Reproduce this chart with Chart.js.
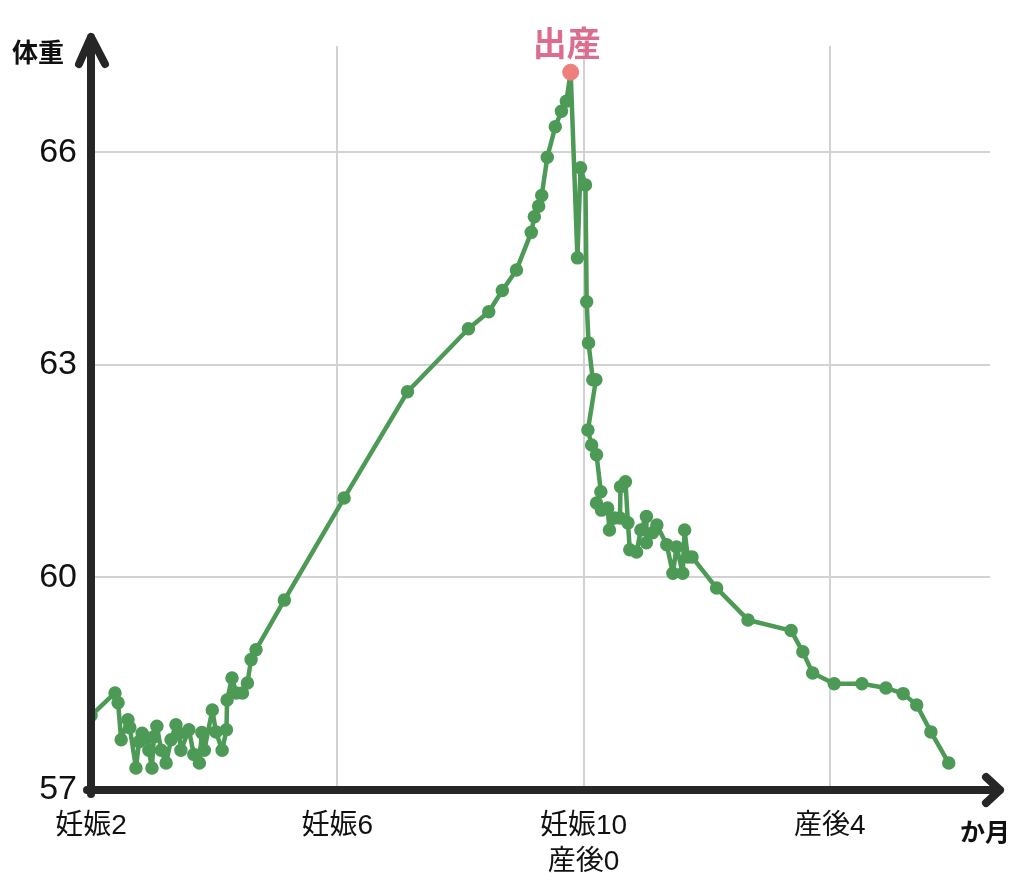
<!DOCTYPE html>
<html>
<head>
<meta charset="utf-8">
<script src="https://cdn.jsdelivr.net/npm/chart.js@4/dist/chart.umd.min.js"></script>
<style>
	body { margin: 0; background: #fff; }
	#wrapper-weight { width: 1024px; height: 893px; position: relative; }
</style>
</head>
<body>
<div id="wrapper-weight"><canvas id="lc-weight"></canvas></div>
<script>
// months: 2..10 = pregnancy month, 10.. = after birth (10 = 産後0)
const monthValues = [
	2.0, 2.39, 2.44, 2.49, 2.6, 2.63, 2.73, 2.78, 2.83, 2.91, 2.94, 2.99, 3.02, 3.07, 3.14,
	3.22, 3.3, 3.38, 3.43, 3.46, 3.59, 3.67, 3.76, 3.8, 3.84, 3.97, 4.03, 4.13, 4.2, 4.21,
	4.29, 4.36, 4.46, 4.54, 4.6, 4.68,
	5.14, 6.11, 7.14, 8.13, 8.46, 8.68, 8.91, 9.15, 9.2, 9.27, 9.32, 9.41, 9.54, 9.64, 9.72,
	9.79,
	9.9, 9.95, 10.03, 10.05, 10.08, 10.15, 10.2, 10.07, 10.13, 10.21, 10.28, 10.21, 10.29,
	10.39, 10.42, 10.5, 10.59, 10.6, 10.68, 10.72, 10.75, 10.86, 10.93, 11.02, 11.02, 11.12,
	11.19, 11.35, 11.45, 11.51, 11.61, 11.64, 11.69, 11.76,
	12.16, 12.67, 13.37, 13.56, 13.72, 14.07, 14.52, 14.91, 15.19, 15.41, 15.64, 15.93,
];
const weightValues = [
	58.05, 58.37, 58.23, 57.71, 57.99, 57.88, 57.31, 57.68, 57.8, 57.73, 57.56, 57.31, 57.75, 57.9, 57.56,
	57.38, 57.71, 57.92, 57.8, 57.56, 57.85, 57.5, 57.38, 57.81, 57.56, 58.13, 57.82, 57.56, 57.85, 58.27,
	58.58, 58.37, 58.37, 58.51, 58.84, 58.98,
	59.68, 61.12, 62.62, 63.51, 63.75, 64.05, 64.34, 64.87, 65.09, 65.24, 65.39, 65.93, 66.36, 66.58, 66.72,
	67.13,
	64.51, 65.78, 65.54, 63.89, 63.31, 62.79, 62.79, 62.08, 61.87, 61.73, 61.21, 61.05, 60.95,
	60.98, 60.67, 60.84, 60.84, 61.28, 61.35, 60.77, 60.39, 60.36, 60.67, 60.86, 60.49, 60.63,
	60.74, 60.46, 60.06, 60.43, 60.06, 60.67, 60.29, 60.29,
	59.85, 59.4, 59.25, 58.95, 58.65, 58.5, 58.5, 58.44, 58.36, 58.2, 57.82, 57.38,
];

const birthMonth = [9.79];
const birthWeight = [67.13];

const xTickValues = [2, 6, 10, 14];
const xTickLabels = ["妊娠2", "妊娠6", ["妊娠10", "産後0"], "産後4"];
const yTickValues = [57, 60, 63, 66];

const fontFamily = '"Liberation Sans", "Noto Sans CJK JP", sans-serif';
const cjkFont = '"Noto Sans CJK JP", "Liberation Sans", sans-serif';

// axes with arrow heads + free texts
const axisArrows = {
	id: "axisArrows",
	afterDatasetsDraw(chart) {
		const { ctx, chartArea } = chart;
		const left = chartArea.left, bottom = chartArea.bottom;
		ctx.save();
		ctx.strokeStyle = "#262626";
		ctx.lineWidth = 8;
		ctx.lineCap = "round";
		ctx.lineJoin = "round";

		ctx.beginPath();
		ctx.moveTo(left, bottom + 4);
		ctx.lineTo(left, 37);
		ctx.moveTo(left - 12, 64);
		ctx.lineTo(left, 37);
		ctx.lineTo(left + 14, 64);
		ctx.stroke();

		ctx.beginPath();
		ctx.moveTo(left - 4, bottom);
		ctx.lineTo(1000, bottom);
		ctx.moveTo(986, bottom - 13);
		ctx.lineTo(1000, bottom);
		ctx.lineTo(986, bottom + 13);
		ctx.stroke();

		ctx.fillStyle = "#111";
		ctx.textAlign = "center";
		ctx.textBaseline = "middle";
		ctx.font = "bold 26px " + cjkFont;
		ctx.fillText("体重", 38, 52);
		ctx.font = "bold 25px " + cjkFont;
		ctx.fillText("か月", 985, 831);

		const x = chart.scales.x.getPixelForValue(birthMonth[0]);
		const y = chart.scales.y.getPixelForValue(birthWeight[0]);
		ctx.fillStyle = "#dc6d8f";
		ctx.font = "bold 34px " + cjkFont;
		ctx.fillText("出産", x - 4, y - 29);
		ctx.restore();
	},
};

const data = {
	datasets: [
		{
			label: "出産",
			data: birthMonth.map((m, i) => ({ x: m, y: birthWeight[i] })),
			backgroundColor: "#ee7f7c",
			borderColor: "#ee7f7c",
			pointRadius: 8,
			showLine: false,
			order: 0,
		},
		{
			label: "体重",
			data: monthValues.map((m, i) => ({ x: m, y: weightValues[i] })),
			borderColor: "#4c9a56",
			backgroundColor: "#4c9a56",
			borderWidth: 4.5,
			pointRadius: 4.5,
			borderJoinStyle: "round",
			tension: 0,
			order: 1,
		},
	],
};

const options = {
	responsive: true,
	maintainAspectRatio: false,
	animation: false,
	layout: { padding: { top: 46, right: 34, left: 0, bottom: 0 } },
	plugins: {
		legend: { display: false },
		tooltip: { enabled: false },
	},
	scales: {
		x: {
			type: "linear",
			min: 2,
			max: 16.6,
			afterFit: (scale) => { scale.height = 103; },
			afterBuildTicks: (scale) => {
				scale.ticks = xTickValues.map((v) => ({ value: v }));
			},
			border: { display: false },
			grid: {
				drawTicks: false,
				lineWidth: 2,
				color: (ctx) => (ctx.tick && ctx.tick.value === 2 ? "rgba(0,0,0,0)" : "#d2d2d2"),
			},
			ticks: {
				padding: 18,
				maxRotation: 0,
				autoSkip: false,
				color: "#111",
				font: { family: fontFamily, size: 28, lineHeight: 1.3 },
				callback: (value) => xTickLabels[xTickValues.indexOf(value)],
			},
		},
		y: {
			min: 57,
			max: 67.5,
			afterFit: (scale) => { scale.width = 91; },
			afterBuildTicks: (scale) => {
				scale.ticks = yTickValues.map((v) => ({ value: v }));
			},
			border: { display: false },
			grid: {
				drawTicks: false,
				lineWidth: 2,
				color: (ctx) => (ctx.tick && ctx.tick.value === 57 ? "rgba(0,0,0,0)" : "#d2d2d2"),
			},
			ticks: {
				padding: 14,
				color: "#111",
				font: { family: fontFamily, size: 34 },
			},
		},
	},
};

let lineChart = new Chart(document.getElementById("lc-weight").getContext("2d"), {
	type: "line",
	data: data,
	options: options,
	plugins: [axisArrows],
});
</script>
</body>
</html>
